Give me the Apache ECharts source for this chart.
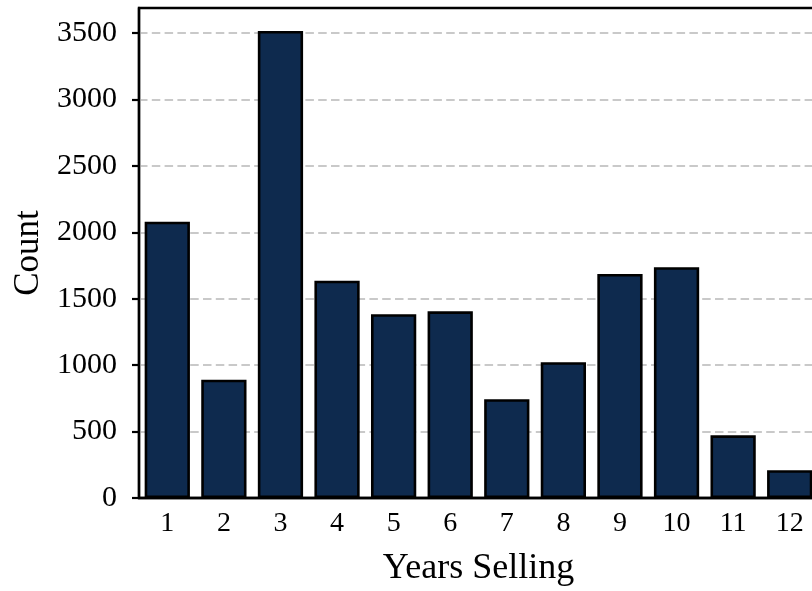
<!DOCTYPE html>
<html>
<head>
<meta charset="utf-8">
<script src="https://cdn.jsdelivr.net/npm/echarts@6/dist/echarts.min.js"></script>
<style>
  html, body { margin: 0; padding: 0; background: #ffffff; }
  #chart { width: 812px; height: 591px; }
</style>
</head>
<body>
<div id="chart"></div>
<script>
// Number of sellers by years of selling experience
const years = ['1', '2', '3', '4', '5', '6', '7', '8', '9', '10', '11', '12'];
const counts = [2080, 890, 3515, 1635, 1383, 1405, 744, 1022, 1686, 1737, 472, 209];
const yTicks = [0, 500, 1000, 1500, 2000, 2500, 3000, 3500];

const serif = '"Liberation Serif", "DejaVu Serif", serif';

const chart = echarts.init(document.getElementById('chart'), null, { renderer: 'canvas' });

chart.setOption({
  animation: false,
  backgroundColor: '#ffffff',
  grid: {
    left: 139,
    top: 8,
    right: -6,
    bottom: 93,
    outerBoundsMode: 'none',
    containLabel: false,
    show: true,
    borderColor: '#000000',
    borderWidth: 2.4,
    backgroundColor: 'transparent'
  },
  xAxis: {
    type: 'category',
    data: years,
    name: 'Years Selling',
    nameLocation: 'middle',
    nameGap: 53,
    nameTextStyle: { fontFamily: serif, fontSize: 36, color: '#000000' },
    axisLine: { lineStyle: { color: '#000000', width: 2.4 } },
    axisTick: { alignWithLabel: true, length: 7, lineStyle: { color: '#000000', width: 2.2 } },
    axisLabel: { fontFamily: serif, fontSize: 28, color: '#000000', margin: 12 },
    splitLine: { show: false }
  },
  yAxis: {
    type: 'value',
    min: 0,
    max: 3688,
    interval: 500,
    name: 'Count',
    nameLocation: 'middle',
    nameGap: 92,
    nameTextStyle: { fontFamily: serif, fontSize: 35, color: '#000000' },
    axisLine: { show: true, lineStyle: { color: '#000000', width: 2.4 } },
    axisTick: { show: true, length: 7, lineStyle: { color: '#000000', width: 2.2 }, customValues: yTicks },
    axisLabel: {
      fontFamily: serif, fontSize: 30, color: '#000000', margin: 22,
      customValues: yTicks,
      formatter: (v) => String(v)
    },
    splitLine: {
      show: true,
      lineStyle: { color: '#c9c9c9', width: 2, type: [8.5, 4.3] }
    }
  },
  series: [{
    type: 'bar',
    data: counts,
    barCategoryGap: '20%',
    itemStyle: { color: '#0e2a4e', borderColor: '#000000', borderWidth: 2.6 }
  }]
});
</script>
</body>
</html>
